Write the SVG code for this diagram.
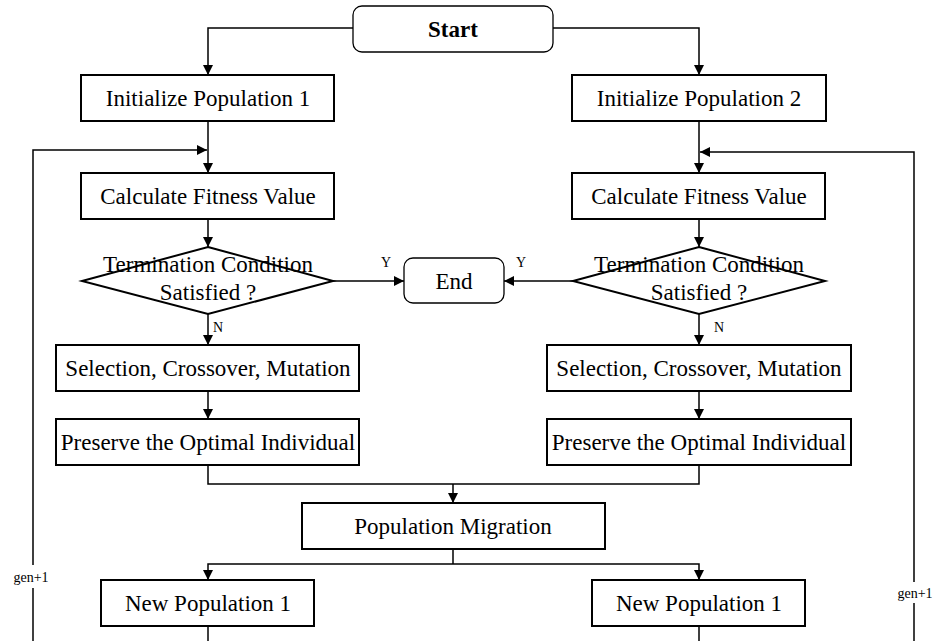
<svg xmlns="http://www.w3.org/2000/svg" width="933" height="641" viewBox="0 0 933 641">
<defs>
<marker id="ah" viewBox="0 0 10 10" refX="10" refY="5" markerWidth="10" markerHeight="10" markerUnits="userSpaceOnUse" orient="auto">
<path d="M0,0 L10,5 L0,10 z" fill="#000"/>
</marker>
<style>
.box{fill:#fff;stroke:#000;stroke-width:2}
.term{fill:#fff;stroke:#000;stroke-width:1.3}
.ln{fill:none;stroke:#000;stroke-width:1.5}
.ar{fill:none;stroke:#000;stroke-width:1.5;marker-end:url(#ah)}
.t{font-family:"Liberation Serif","Times New Roman",serif;font-size:23px;fill:#000;text-anchor:middle}
.s{font-family:"Liberation Serif","Times New Roman",serif;font-size:14px;fill:#000;text-anchor:middle}
</style>
</defs>
<rect width="933" height="641" fill="#fff"/>
<g id="connectors">
<path class="ar" d="M353,28 H208 V75"/>
<path class="ar" d="M553,28 H699 V75"/>
<path class="ar" d="M208,121 V173"/>
<path class="ar" d="M699,121 V173"/>
<path class="ar" d="M33,565 V150 H207"/>
<path class="ln" d="M33,588 V641"/>
<path class="ar" d="M914,582 V152 H700"/>
<path class="ln" d="M914,603 V641"/>
<path class="ar" d="M208,219 V247"/>
<path class="ar" d="M699,219 V247"/>
<path class="ar" d="M333,281 H404"/>
<path class="ar" d="M573,281 H504"/>
<path class="ar" d="M208,314 V345"/>
<path class="ar" d="M699,314 V345"/>
<path class="ar" d="M208,391 V419"/>
<path class="ar" d="M699,391 V419"/>
<path class="ln" d="M208,465 V484 H699 V465"/>
<path class="ar" d="M453,484 V503"/>
<path class="ln" d="M453,549 V564"/>
<path class="ar" d="M453,564 H208 V580"/>
<path class="ar" d="M453,564 H699 V580"/>
<path class="ln" d="M208,626 V641"/>
<path class="ln" d="M699,626 V641"/>
<text class="s" x="386" y="267">Y</text>
<text class="s" x="521" y="267">Y</text>
<text class="s" x="218" y="332">N</text>
<text class="s" x="719" y="332">N</text>
<text class="s" x="31" y="582">gen+1</text>
<text class="s" x="915" y="598">gen+1</text>
</g>
<g id="start">
<rect class="term" x="353" y="6" width="200" height="46" rx="9"/>
<text class="t" x="453" y="37" font-weight="bold" font-size="24">Start</text>
</g>
<g id="init1">
<rect class="box" x="81" y="75" width="253" height="46"/>
<text class="t" x="208" y="106">Initialize Population 1</text>
</g>
<g id="init2">
<rect class="box" x="572" y="75" width="254" height="46"/>
<text class="t" x="699" y="106">Initialize Population 2</text>
</g>
<g id="fit1">
<rect class="box" x="81" y="173" width="253" height="46"/>
<text class="t" x="208" y="204">Calculate Fitness Value</text>
</g>
<g id="fit2">
<rect class="box" x="572" y="173" width="253" height="46"/>
<text class="t" x="699" y="204">Calculate Fitness Value</text>
</g>
<g id="cond1">
<polygon class="box" points="208,247 333,281 208,314 82,281"/>
<text class="t" x="208" y="272">Termination Condition</text>
<text class="t" x="208" y="300">Satisfied ?</text>
</g>
<g id="cond2">
<polygon class="box" points="699,247 825,281 699,314 573,281"/>
<text class="t" x="699" y="272">Termination Condition</text>
<text class="t" x="699" y="300">Satisfied ?</text>
</g>
<g id="end">
<rect class="term" x="404" y="258" width="100" height="45" rx="9"/>
<text class="t" x="454" y="289">End</text>
</g>
<g id="sel1">
<rect class="box" x="56" y="345" width="303" height="46"/>
<text class="t" x="208" y="376">Selection, Crossover, Mutation</text>
</g>
<g id="sel2">
<rect class="box" x="547" y="345" width="304" height="46"/>
<text class="t" x="699" y="376">Selection, Crossover, Mutation</text>
</g>
<g id="pres1">
<rect class="box" x="56" y="419" width="303" height="46"/>
<text class="t" x="208" y="450">Preserve the Optimal Individual</text>
</g>
<g id="pres2">
<rect class="box" x="547" y="419" width="304" height="46"/>
<text class="t" x="699" y="450">Preserve the Optimal Individual</text>
</g>
<g id="migration">
<rect class="box" x="302" y="503" width="303" height="46"/>
<text class="t" x="453" y="534">Population Migration</text>
</g>
<g id="newpop1">
<rect class="box" x="101" y="580" width="213" height="46"/>
<text class="t" x="208" y="611">New Population 1</text>
</g>
<g id="newpop2">
<rect class="box" x="592" y="580" width="213" height="46"/>
<text class="t" x="699" y="611">New Population 1</text>
</g>
</svg>
